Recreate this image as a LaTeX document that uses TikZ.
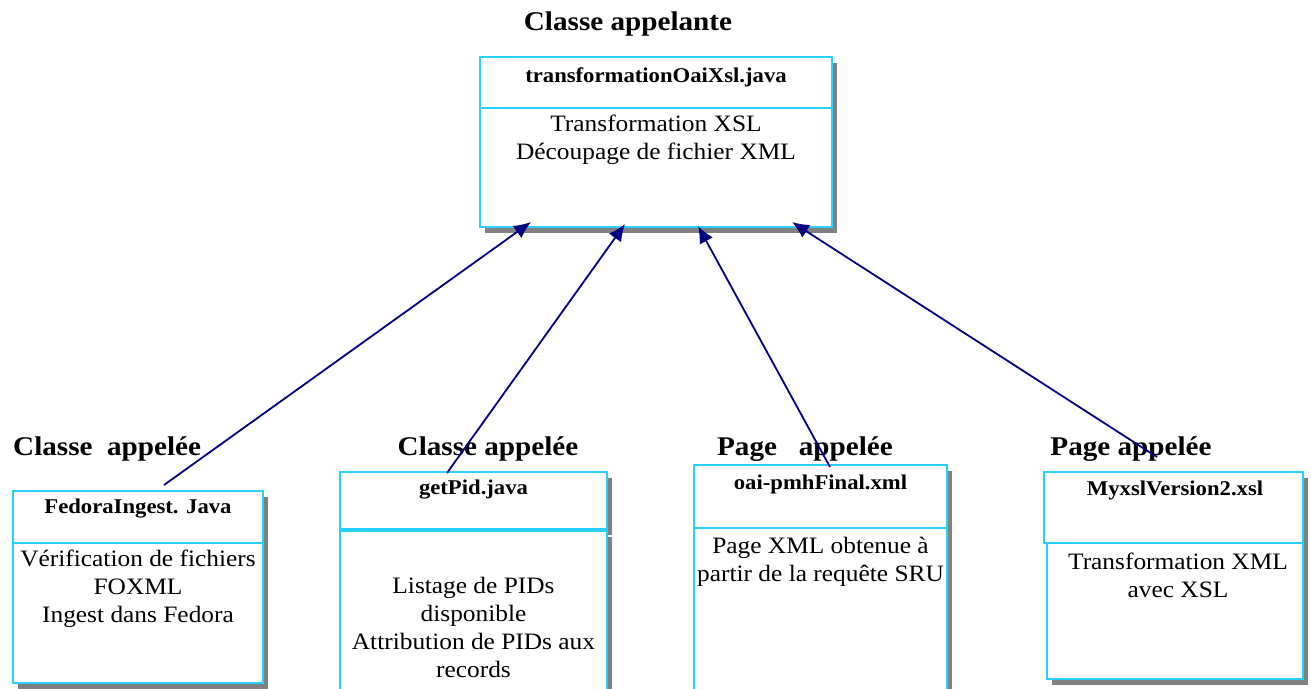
\documentclass[tikz,border=0pt]{standalone}
\usepackage{fontspec}
\setmainfont{Liberation Serif}[FakeStretch=1.08]
\usetikzlibrary{arrows.meta,shadows}
\definecolor{boxcyan}{RGB}{40,208,255}
\definecolor{linknavy}{RGB}{0,0,128}
\definecolor{shadowgray}{RGB}{128,128,128}
\tikzset{
  cell/.style={draw=boxcyan, line width=1.3pt, fill=white, anchor=north west,
    inner sep=0pt, outer sep=0pt,
    drop shadow={shadow xshift=5pt, shadow yshift=-6pt, fill=shadowgray, opacity=1}},
  heading/.style={font=\bfseries\fontsize{27}{32}\selectfont, inner sep=0pt},
  ttl/.style={font=\bfseries\fontsize{21}{25}\selectfont, inner sep=0pt},
  bodytxt/.style={font=\fontsize{23.5}{28}\selectfont, align=center, inner sep=0pt},
  link/.style={draw=linknavy, line width=1.8pt, -{Latex[length=17pt,width=15pt]}}
}
\begin{document}
\begin{tikzpicture}[x=1pt,y=-1pt]
\useasboundingbox (0,0) rectangle (1311,688);
\clip (0,0) rectangle (1311,688);

% calling class
\node[heading] (hcall) at (628,24) {Classe appelante};
\node[cell, minimum width=352pt, minimum height=51pt] (topT) at (480,57) {};
\node[cell, minimum width=352pt, minimum height=119pt] (topB) at (480,108) {};
\node[ttl] (topTtxt) at (656,77) {transformationOaiXsl.java};
\node[bodytxt] (topBtxt) at (656,140) {Transformation XSL\\Découpage de fichier XML};

% called class: FedoraIngest
\node[heading, anchor=west] (h1) at (13,449) {Classe\ \ appelée};
\node[cell, minimum width=250pt, minimum height=52pt] (b1T) at (13,491) {};
\node[cell, minimum width=250pt, minimum height=140pt] (b1B) at (13,543) {};
\node[ttl] (b1Ttxt) at (138,509) {FedoraIngest. Java};
\node[bodytxt] (b1Btxt) at (138,589) {Vérification de fichiers\\FOXML\\Ingest dans Fedora};

% called class: getPid
\node[heading] (h2) at (488,449) {Classe appelée};
\node[cell, minimum width=267pt, minimum height=57pt] (b2T) at (340,472) {};
\node[cell, minimum width=267pt, minimum height=200pt] (b2B) at (340,531) {};
\node[ttl] (b2Ttxt) at (473.5,490) {getPid.java};
\node[bodytxt] (b2Btxt) at (473.5,627) {Listage de PIDs\\disponible\\Attribution de PIDs aux\\records};

% called page: oai-pmhFinal
\node[heading] (h3) at (805,449) {Page\ \ \ appelée};
\node[cell, minimum width=253pt, minimum height=63pt] (b3T) at (694,465) {};
\node[cell, minimum width=253pt, minimum height=200pt] (b3B) at (694,528) {};
\node[ttl] (b3Ttxt) at (820.5,484) {oai-pmhFinal.xml};
\node[bodytxt] (b3Btxt) at (820.5,562) {Page XML obtenue à\\partir de la requête SRU};

% called page: MyxslVersion2
\node[heading] (h4) at (1131,449) {Page appelée};
\node[cell, minimum width=259pt, minimum height=71pt] (b4T) at (1044,472) {};
\node[cell, minimum width=256pt, minimum height=136pt] (b4B) at (1047,543) {};
\node[ttl] (b4Ttxt) at (1175,490) {MyxslVersion2.xsl};
\node[bodytxt] (b4Btxt) at (1178,575) {Transformation XML\\avec XSL};

% connector ends
\coordinate (s1) at (164,485);
\coordinate (s2) at (447,473);
\coordinate (s3) at (830,467);
\coordinate (s4) at (1157,457);
\coordinate (e1) at (531,222);
\coordinate (e2) at (625,224);
\coordinate (e3) at (698,226);
\coordinate (e4) at (792,222);

\draw[link] (s1) -- (e1);
\draw[link] (s2) -- (e2);
\draw[link] (s3) -- (e3);
\draw[link] (s4) -- (e4);
\end{tikzpicture}
\end{document}
